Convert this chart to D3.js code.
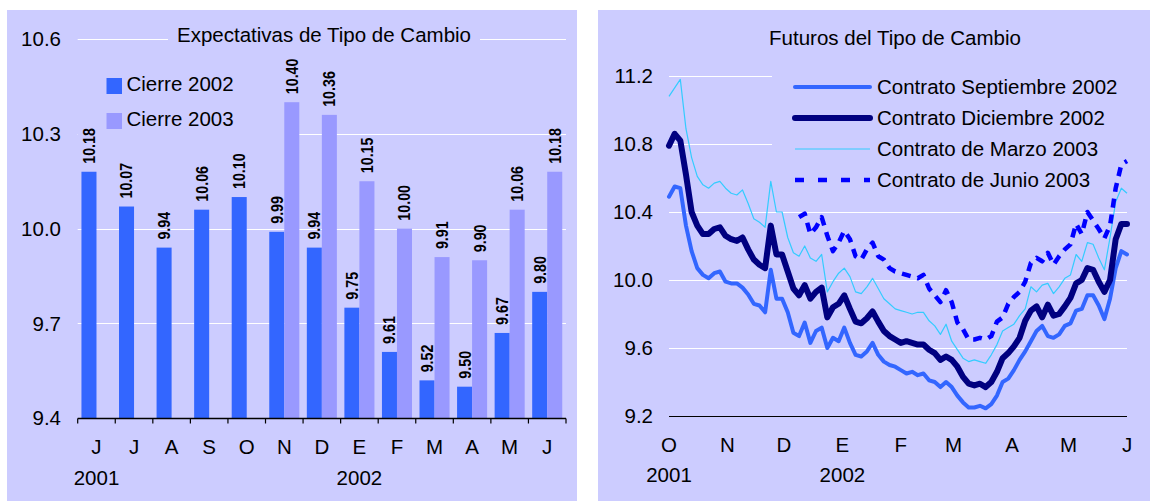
<!DOCTYPE html>
<html>
<head>
<meta charset="utf-8">
<script src="https://cdn.jsdelivr.net/npm/d3@7"></script>
<style>
  html, body { margin: 0; padding: 0; background: #ffffff; }
  svg { display: block; }
  text { font-family: "Liberation Sans", Arial, sans-serif; fill: #000; }
</style>
</head>
<body>
<svg id="chart" width="1153" height="501"></svg>
<script>
// ---------- Expectativas de Tipo de Cambio (bars) ----------
const barMonths = ["J", "J", "A", "S", "O", "N", "D", "E", "F", "M", "A", "M", "J"];
const cierre2002 = [10.18, 10.07, 9.94, 10.06, 10.10, 9.99, 9.94, 9.75, 9.61, 9.52, 9.50, 9.67, 9.80];
const cierre2003 = [null, null, null, null, null, 10.40, 10.36, 10.15, 10.00, 9.91, 9.90, 10.06, 10.18];
const barYears = [{ index: 0, text: "2001" }, { index: 7, text: "2002" }];
const barTicks = [9.4, 9.7, 10.0, 10.3, 10.6];
const barSeries = [
  { name: "Cierre 2002", color: "#3366FF", values: cierre2002 },
  { name: "Cierre 2003", color: "#9999FF", values: cierre2003 }
];

// ---------- Futuros del Tipo de Cambio (lines) ----------
const futDates = [
  "2001-10-01","2001-10-04","2001-10-07","2001-10-10","2001-10-13","2001-10-16","2001-10-19","2001-10-22","2001-10-25","2001-10-28","2001-10-31",
  "2001-11-03","2001-11-06","2001-11-09","2001-11-12","2001-11-15","2001-11-18","2001-11-21","2001-11-24","2001-11-27","2001-11-30",
  "2001-12-03","2001-12-06","2001-12-09","2001-12-12","2001-12-15","2001-12-18","2001-12-21","2001-12-24","2001-12-27","2001-12-30",
  "2002-01-02","2002-01-05","2002-01-08","2002-01-11","2002-01-14","2002-01-17","2002-01-20","2002-01-23","2002-01-26","2002-01-29",
  "2002-02-01","2002-02-04","2002-02-07","2002-02-10","2002-02-13","2002-02-16","2002-02-19","2002-02-22","2002-02-25","2002-02-28",
  "2002-03-03","2002-03-06","2002-03-09","2002-03-12","2002-03-15","2002-03-18","2002-03-21","2002-03-24","2002-03-27","2002-03-30",
  "2002-04-02","2002-04-05","2002-04-08","2002-04-11","2002-04-14","2002-04-17","2002-04-20","2002-04-23","2002-04-26","2002-04-29",
  "2002-05-02","2002-05-05","2002-05-08","2002-05-11","2002-05-14","2002-05-17","2002-05-20","2002-05-23","2002-05-26","2002-05-29","2002-06-01"
];
const sep2002 = [
  10.49,10.55,10.54,10.32,10.17,10.07,10.03,10.01,10.04,10.05,9.99,
  9.98,9.98,9.955,9.915,9.86,9.85,9.81,10.06,9.89,9.89,
  9.81,9.69,9.67,9.75,9.63,9.70,9.72,9.60,9.66,9.64,
  9.72,9.63,9.56,9.55,9.58,9.63,9.56,9.52,9.50,9.49,
  9.47,9.45,9.46,9.44,9.45,9.41,9.40,9.37,9.40,9.37,
  9.32,9.28,9.25,9.25,9.26,9.245,9.27,9.32,9.40,9.42,
  9.47,9.53,9.58,9.64,9.70,9.73,9.67,9.66,9.68,9.73,
  9.745,9.82,9.83,9.91,9.91,9.85,9.77,9.89,10.07,10.17,10.15
];
const dic2002 = [
  10.79,10.86,10.82,10.62,10.40,10.32,10.27,10.27,10.30,10.31,10.26,
  10.24,10.23,10.25,10.18,10.12,10.09,10.07,10.32,10.15,10.15,
  10.05,9.95,9.91,9.97,9.89,9.93,9.955,9.78,9.84,9.86,
  9.91,9.83,9.755,9.745,9.775,9.815,9.755,9.70,9.67,9.65,
  9.63,9.64,9.63,9.62,9.62,9.59,9.57,9.53,9.55,9.53,
  9.49,9.43,9.39,9.38,9.39,9.37,9.40,9.46,9.54,9.57,
  9.61,9.66,9.76,9.82,9.845,9.78,9.855,9.79,9.80,9.845,
  9.895,9.98,10.00,10.07,10.06,9.99,9.93,10.00,10.24,10.33,10.33
];
const mar2003 = [
  11.08,11.13,11.18,10.89,10.72,10.61,10.56,10.54,10.57,10.58,10.54,
  10.51,10.50,10.53,10.45,10.36,10.34,10.31,10.58,10.40,10.40,
  10.25,10.16,10.14,10.20,10.13,10.11,10.15,9.93,9.99,10.04,
  10.07,10.02,9.93,9.92,9.96,10.01,9.95,9.89,9.86,9.83,
  9.82,9.81,9.80,9.81,9.81,9.76,9.73,9.68,9.74,9.64,
  9.59,9.54,9.52,9.53,9.52,9.51,9.56,9.62,9.70,9.72,
  9.74,9.79,9.83,9.96,9.93,9.97,9.98,9.92,9.96,10.01,
  10.03,10.15,10.11,10.22,10.21,10.13,10.06,10.25,10.46,10.54,10.51
];
const jun2003 = [
  null,null,null,null,null,null,null,null,null,null,null,
  null,null,null,null,null,null,null,null,null,null,
  null,null,10.37,10.39,10.27,10.31,10.37,10.26,10.17,10.22,
  10.29,10.24,10.14,10.12,10.18,10.22,10.14,10.12,10.07,10.05,
  10.04,10.03,10.02,10.01,10.03,9.95,9.91,9.87,9.94,9.87,
  9.75,9.71,9.65,9.65,9.66,9.65,9.67,9.755,9.78,9.86,
  9.90,9.93,9.99,10.10,10.13,10.11,10.16,10.09,10.14,10.18,
  10.21,10.33,10.27,10.40,10.35,10.30,10.245,10.32,10.54,10.68,10.70
];
const futMonths = ["O", "N", "D", "E", "F", "M", "A", "M", "J"];
const futYears = [{ date: "2001-10-01", text: "2001" }, { date: "2002-01-01", text: "2002" }];
const futTicks = [9.2, 9.6, 10.0, 10.4, 10.8, 11.2];
const futSeries = [
  { name: "Contrato Septiembre 2002", color: "#3366FF", width: 4, dash: null, legendDash: null, cap: "round", values: sep2002 },
  { name: "Contrato Diciembre 2002", color: "#000080", width: 6, dash: null, legendDash: null, cap: "round", values: dic2002 },
  { name: "Contrato de Marzo 2003", color: "#33CCFF", width: 1.2, dash: null, legendDash: null, cap: "butt", values: mar2003 },
  { name: "Contrato de Junio 2003", color: "#0000FF", width: 4.5, dash: "9,7", legendDash: "9,14", cap: "butt", values: jun2003 }
];

const BG = "#CCCCFF";
const FS = "20.5px";
const svg = d3.select("#chart");

// ================= Left panel =================
const left = svg.append("g");
left.append("rect").attr("x", 7).attr("y", 10).attr("width", 570).attr("height", 491).attr("fill", BG);

const xb = d3.scaleBand().domain(d3.range(barMonths.length)).range([77.7, 566]).paddingInner(0).paddingOuter(0);
const xInner = d3.scaleBand().domain([0, 1]).range([0, xb.bandwidth()]).paddingInner(0).paddingOuter(0.25);
const yb = d3.scaleLinear().domain([9.4, 10.6]).range([418.3, 39]);

// gridlines
left.append("g").selectAll("line").data(barTicks.slice(1)).join("line")
  .attr("x1", 77.7).attr("x2", 566)
  .attr("y1", d => Math.round(yb(d)) + 0.5).attr("y2", d => Math.round(yb(d)) + 0.5)
  .attr("stroke", "#ffffff").attr("stroke-width", 1);

// title with its own backing box
left.append("rect").attr("x", 168).attr("y", 22).attr("width", 312).attr("height", 28).attr("fill", BG);
left.append("text").attr("x", 324).attr("y", 42).attr("text-anchor", "middle")
  .style("font-size", FS).text("Expectativas de Tipo de Cambio");

// legend backing box
left.append("rect").attr("x", 78).attr("y", 60).attr("width", 207).attr("height", 80).attr("fill", BG);

// bars with vertical value labels
barSeries.forEach((s, si) => {
  const pts = s.values.map((v, i) => ({ i, v })).filter(d => d.v != null);
  left.append("g").selectAll("rect").data(pts).join("rect")
    .attr("x", d => xb(d.i) + xInner(si))
    .attr("width", xInner.bandwidth())
    .attr("y", d => yb(d.v))
    .attr("height", d => yb(9.4) - yb(d.v))
    .attr("fill", s.color);
  left.append("g").selectAll("text").data(pts).join("text")
    .attr("transform", d => `translate(${xb(d.i) + xInner(si) + xInner.bandwidth() / 2},${yb(d.v) - 8}) rotate(-90) scale(0.84,1)`)
    .attr("dy", "0.35em")
    .attr("text-anchor", "start")
    .style("font-size", "17px")
    .style("font-weight", "bold")
    .text(d => d3.format(".2f")(d.v));
});

// axis line and ticks between categories
const yBase = Math.round(yb(9.4)) + 0.5;
left.append("line").attr("x1", 77.7).attr("x2", 566).attr("y1", yBase).attr("y2", yBase)
  .attr("stroke", "#000").attr("stroke-width", 1.4);
const boundaries = d3.range(barMonths.length + 1).map(i => i < barMonths.length ? xb(i) : xb.range()[1]);
left.append("g").selectAll("line").data(boundaries).join("line")
  .attr("x1", d => d).attr("x2", d => d).attr("y1", yBase).attr("y2", yBase + 5)
  .attr("stroke", "#000").attr("stroke-width", 1.2);

// y tick labels
left.append("g").selectAll("text").data(barTicks).join("text")
  .attr("x", 61).attr("y", d => yb(d)).attr("dy", "0.35em").attr("text-anchor", "end")
  .style("font-size", FS).text(d => d3.format(".1f")(d));

// month and year labels
left.append("g").selectAll("text").data(barMonths).join("text")
  .attr("x", (d, i) => xb(i) + xb.bandwidth() / 2).attr("y", 454).attr("text-anchor", "middle")
  .style("font-size", FS).text(d => d);
left.append("g").selectAll("text").data(barYears).join("text")
  .attr("x", d => xb(d.index) + xb.bandwidth() / 2).attr("y", 485).attr("text-anchor", "middle")
  .style("font-size", FS).text(d => d.text);

// legend
barSeries.forEach((s, i) => {
  const yy = [78, 113][i];
  left.append("rect").attr("x", 106.5).attr("y", yy).attr("width", 15.5).attr("height", 16).attr("fill", s.color);
  left.append("text").attr("x", 126.5).attr("y", yy + 13).style("font-size", FS).text(s.name);
});

// ================= Right panel =================
const right = svg.append("g");
right.append("rect").attr("x", 598).attr("y", 10).attr("width", 552).attr("height", 491).attr("fill", BG);

const parse = d3.timeParse("%Y-%m-%d");
const dates = futDates.map(parse);
const xt = d3.scaleTime().domain([parse("2001-10-01"), parse("2002-06-01")]).range([669, 1127]);
const yt = d3.scaleLinear().domain([9.2, 11.2]).range([416, 76]);

right.append("text").attr("x", 895).attr("y", 45).attr("text-anchor", "middle")
  .style("font-size", FS).text("Futuros del Tipo de Cambio");

// gridlines
right.append("g").selectAll("line").data(futTicks.slice(1)).join("line")
  .attr("x1", 669).attr("x2", 1127)
  .attr("y1", d => Math.round(yt(d)) + 0.5).attr("y2", d => Math.round(yt(d)) + 0.5)
  .attr("stroke", "#ffffff").attr("stroke-width", 1);

// legend backing box
right.append("rect").attr("x", 772).attr("y", 66).attr("width", 370).attr("height", 134).attr("fill", BG);

// baseline axis
right.append("line").attr("x1", 669).attr("x2", 1127)
  .attr("y1", Math.round(yt(9.2)) + 0.5).attr("y2", Math.round(yt(9.2)) + 0.5)
  .attr("stroke", "#000").attr("stroke-width", 1.2);

// series
const line = d3.line().defined(d => d.v != null).x(d => xt(d.date)).y(d => yt(d.v));
futSeries.forEach(s => {
  const pts = s.values.map((v, i) => ({ date: dates[i], v }));
  right.append("path").datum(pts)
    .attr("d", line)
    .attr("fill", "none")
    .attr("stroke", s.color)
    .attr("stroke-width", s.width)
    .attr("stroke-linejoin", "round")
    .attr("stroke-linecap", s.cap)
    .attr("stroke-dasharray", s.dash);
});

// y tick labels
right.append("g").selectAll("text").data(futTicks).join("text")
  .attr("x", 653).attr("y", d => yt(d)).attr("dy", "0.35em").attr("text-anchor", "end")
  .style("font-size", FS).text(d => d3.format(".1f")(d));

// month and year labels
const monthStarts = d3.timeMonth.range(parse("2001-10-01"), parse("2002-06-02"));
right.append("g").selectAll("text").data(monthStarts).join("text")
  .attr("x", d => xt(d)).attr("y", 452).attr("text-anchor", "middle")
  .style("font-size", FS).text((d, i) => futMonths[i]);
right.append("g").selectAll("text").data(futYears).join("text")
  .attr("x", d => xt(parse(d.date))).attr("y", 482).attr("text-anchor", "middle")
  .style("font-size", FS).text(d => d.text);

// legend
futSeries.forEach((s, i) => {
  const yy = [87, 118, 149, 180][i];
  right.append("line").attr("x1", 795).attr("x2", 870).attr("y1", yy).attr("y2", yy)
    .attr("stroke", s.color).attr("stroke-width", s.width)
    .attr("stroke-linecap", s.cap).attr("stroke-dasharray", s.legendDash);
  right.append("text").attr("x", 877).attr("y", yy + 6.5).style("font-size", FS).text(s.name);
});
</script>
</body>
</html>
